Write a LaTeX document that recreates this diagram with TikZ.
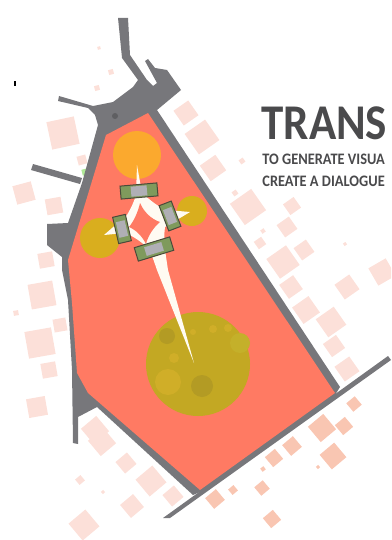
\documentclass[tikz,border=0pt]{standalone}
\usepackage{fontspec}
\newfontfamily\headfont[FakeStretch=0.9]{Carlito}
\usepackage{xcolor}
\usetikzlibrary{positioning,calc}
\definecolor{roadgrey}{HTML}{77777B}
\definecolor{lawnred}{HTML}{FF7A63}
\definecolor{plotpale}{HTML}{FCE0D9}
\definecolor{plotdeep}{HTML}{F9C6B2}
\definecolor{crownorange}{HTML}{FBA92E}
\definecolor{crownyellow}{HTML}{D9AE1E}
\definecolor{crownolive}{HTML}{C3A823}
\definecolor{spotdark}{HTML}{B39B24}
\definecolor{spotlight}{HTML}{D0AE28}
\definecolor{spotgreen}{HTML}{C4B02A}
\definecolor{deckgreen}{HTML}{7F9A5C}
\definecolor{deckline}{HTML}{4A4A3A}
\definecolor{deckgrey}{HTML}{B0AFB5}
\definecolor{pathcream}{HTML}{FFFBF2}
\definecolor{titlegrey}{HTML}{4A4A4C}
\tikzset{
  plot/.style={fill=plotpale,draw=none,minimum size=#1,inner sep=0pt,outer sep=0pt},
  deck/.style={draw=deckline,line width=0.5pt,fill=deckgreen,inner sep=0pt},
  slab/.style={fill=deckgrey,inner sep=0pt},
  crown/.style={circle,inner sep=0pt,minimum size=#1},
  title/.style={anchor=base west,text=titlegrey,inner sep=0pt}
}
\begin{document}
\begin{tikzpicture}[x=0.5pt,y=-0.5pt]
\useasboundingbox (0,0) rectangle (391,540);
\clip (0,0) rectangle (391,540);
% pale plots round the site
\foreach \px/\py/\ps/\pr in {63/133/28/12,24/193/19/15,54/206/16/10,46/260/15/10,82/160/9/15,97/88/5/15,111/72/5/15,99/48/3/15,
  42/295/25/10,60/325/13/10,40/343/27/10,49/370/15/10,37/407/19/10,16/313/5/10,
  95/430/20/40,102/442/20/40,126/463/15/40,151/481/22/40,173/496/15/40,80/480/7/40,103/492/3/40,132/506/17/40,84/525/22/40,
  186/113/18/35,202/137/25/35,213/168/19/35,248/207/26/35,242/161/5/35,235/193/5/35,292/206/13/35,287/227/15/35,260/243/9/35,263/231/4/35,
  304/250/15/35,283/262/24/35,291/287/17/35,306/310/20/35,331/322/22/35,334/346/16/35,347/369/18/35,347/287/18/35,382/272/20/30,345/244/3/35}
  \node[plot=\ps*0.5pt,rotate=\pr] at (\px,\py) {};
\foreach \px/\py/\ps in {215/499/14,233/490/7,262/488/11,263/469/4,274/458/13,292/446/14,322/428/20,344/426/13,354/404/11,333/456/19,318/467/3,272/519/13}
  \node[plot=\ps*0.5pt,fill=plotdeep,rotate=40] at (\px,\py) {};
\node[plot=6pt*0.5,fill=green!30!plotpale,rotate=15] (greenplot) at (85,172) {};
\node[plot=1pt,minimum height=2.5pt,fill=black] (blackmark) at (14.5,84) {};
% roads
\fill[roadgrey] (118,18) -- (128,18) -- (130,55) -- (147,80) -- (153,86) -- (157,83) -- (145,61) -- (148,59) -- (155,68) -- (167,70) -- (181,90) -- (157,110)
  -- (340,387) -- (335,395) -- (200,492) -- (193,495) -- (97,407) -- (78,417) -- (78,444) -- (73,443) -- (72,370) -- (68,300) -- (62,270) -- (62,257) -- (47,245) -- (47,224) -- (68,223) -- (82,183)
  -- (98,125) -- (95,115) -- (88,108) -- (58,101) -- (59,96) -- (93,106) -- (113,102) -- (133,87) -- (138,80) -- (122,58) -- cycle;
\fill[roadgrey] (33,164) -- (82,178) -- (80,184) -- (31,170) -- cycle;
\fill[roadgrey] (388,356) -- (391,360) -- (170,518) -- (163,518) -- cycle;
\node[crown=3pt,fill=roadgrey!80!black] (roadspot) at (115,116) {};
% lawn
\fill[lawnred] (148,113) -- (106,135) -- (68,260) -- (72,303) -- (77,373) -- (88,393) -- (200,490) -- (335,393) -- cycle;
% trees
\node[crown=24pt,fill=crownorange] (orangetree) at (137,155) {};
\node[crown=20pt,fill=crownyellow] (lefttree) at (100,238) {};
\node[crown=15pt,fill=crownyellow] (righttree) at (192,211) {};
\node[crown=52pt,fill=crownolive] (bigtree) at (198,364) {};
\foreach \px/\py/\ps/\pc in {167/336/8/spotdark,202/386/11/spotdark,174/358/5/spotlight,213/329/4/spotlight,228/328/4/spotlight,193/332/3/spotlight,240/343/10/spotgreen,168/382/13/spotlight}
  \node[crown=\ps*1pt,fill=\pc] at (\px,\py) {};
% paths
\fill[pathcream] (137,165) -- (142,193) .. controls (150,200) and (158,207) .. (167,210) -- (190,212) -- (165,227)
  .. controls (164,235) and (164,243) .. (165,250) -- (168,270) -- (194,363) -- (157,270) -- (150,250) .. controls (142,242) and (133,236) .. (125,233)
  -- (104,235) -- (127,215) .. controls (131,208) and (134,202) .. (136,195) -- cycle;
\fill[lawnred] (140,203) .. controls (144,212) and (151,219) .. (160,222) .. controls (153,228) and (148,236) .. (146,244)
  .. controls (142,236) and (136,230) .. (129,227) .. controls (134,221) and (138,212) .. (140,203) -- cycle;
% decks
\node[deck,rotate=5,minimum width=18.5pt,minimum height=6.5pt] (topdeck) at (139,191) {};
\node[slab,rotate=5,minimum width=8pt,minimum height=5pt] (topslab) at (139,191) {};
\node[deck,rotate=21,minimum width=6.5pt,minimum height=13.5pt] (rightdeck) at (170,216) {};
\node[slab,rotate=21,minimum width=4.5pt,minimum height=8pt] (rightslab) at (170,216) {};
\node[deck,rotate=13,minimum width=6.5pt,minimum height=13.5pt] (leftdeck) at (122,229) {};
\node[slab,rotate=13,minimum width=4.5pt,minimum height=8pt] (leftslab) at (122,229) {};
\node[deck,rotate=17,minimum width=18.5pt,minimum height=7pt] (bottomdeck) at (154,249) {};
\node[slab,rotate=17,minimum width=9pt,minimum height=4.5pt] (bottomslab) at (154,249) {};
% heading
\node[title,font=\headfont\bfseries\fontsize{25}{25}\selectfont] (heading) at (261,140) {TRANS};
\node[title,font=\headfont\bfseries\fontsize{8}{9}\selectfont] (lineone) at (262,164) {TO GENERATE VISUA};
\node[title,font=\headfont\bfseries\fontsize{8}{9}\selectfont] (linetwo) at (262,186) {CREATE A DIALOGUE};
\end{tikzpicture}
\end{document}
